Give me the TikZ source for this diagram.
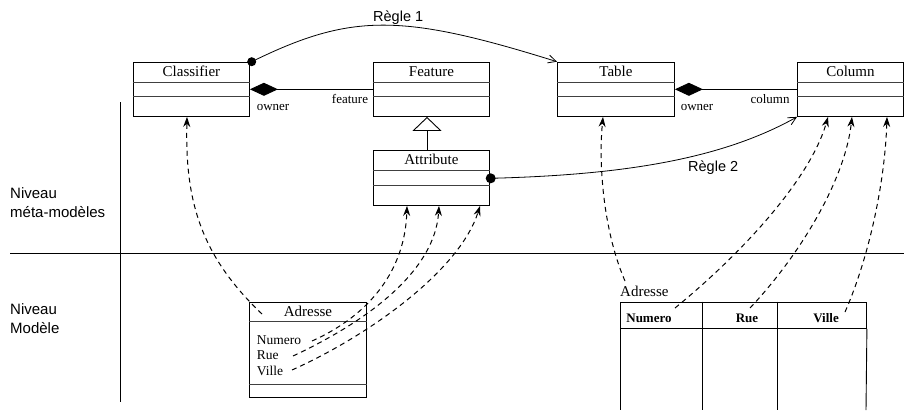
\documentclass[tikz,border=0pt]{standalone}
\usepackage{fontspec}
\setmainfont{Liberation Serif}
\setsansfont{Liberation Sans}
\usetikzlibrary{arrows.meta}
\tikzset{
  umlbox/.style={draw, line width=0.9pt, inner sep=0pt, anchor=north west},
  comp/.style={line width=0.8pt, draw=black!75},
  clsname/.style={font=\fontsize{15}{18}\selectfont, anchor=base, inner sep=0pt},
  rolelbl/.style={font=\fontsize{13}{16}\selectfont, anchor=base, inner sep=0pt},
  attrlbl/.style={font=\fontsize{13.5}{16}\selectfont, anchor=base west, inner sep=0pt},
  hdrlbl/.style={font=\bfseries\fontsize{13}{16}\selectfont, anchor=base, inner sep=0pt},
  sanslbl/.style={font=\sffamily\fontsize{15}{18}\selectfont, anchor=base west, inner sep=0pt},
  rulelbl/.style={font=\sffamily\fontsize{14.5}{18}\selectfont, anchor=base west, inner sep=0pt},
  composition/.style={line width=0.9pt, {Diamond[length=28pt,width=13pt]}-},
  rulearrow/.style={line width=0.8pt, -{Straight Barb[length=8pt,width=8pt]}},
  dasharrow/.style={line width=1pt, dash pattern=on 5pt off 4pt, -{Stealth[length=10pt,width=7pt]}},
}
\begin{document}
\begin{tikzpicture}[x=1pt,y=-1pt]
\useasboundingbox (0,0) rectangle (904,410);

% level separators
\draw[line width=0.9pt] (120,102) -- (120,402);
\draw[line width=0.9pt] (10,253) -- (904,253);
\node[sanslbl] (niv1) at (10,198) {Niveau};
\node[sanslbl] (meta) at (10,217) {méta-modèles};
\node[sanslbl] (niv2) at (10,314) {Niveau};
\node[sanslbl] (mod) at (10,333) {Modèle};

% meta-model classes
\node[umlbox, minimum width=116pt, minimum height=54.3pt] (classifier) at (133,61.7) {};
\node[umlbox, minimum width=116pt, minimum height=54.3pt] (feature) at (373,61.7) {};
\node[umlbox, minimum width=116pt, minimum height=55pt] (attribute) at (373,150) {};
\node[umlbox, minimum width=117pt, minimum height=54.3pt] (table) at (557,61.7) {};
\node[umlbox, minimum width=106pt, minimum height=54.3pt] (column) at (797,61.7) {};

\foreach \n in {classifier,feature,table,column}{
  \draw[comp] (\n.west |- 0,82) -- (\n.east |- 0,82);
  \draw[comp] (\n.west |- 0,96.7) -- (\n.east |- 0,96.7);
}
\draw[comp] (attribute.west |- 0,170.7) -- (attribute.east |- 0,170.7);
\draw[comp] (attribute.west |- 0,185) -- (attribute.east |- 0,185);

\node[clsname] (tclassifier) at (classifier.center |- 0,76.5) {Classifier};
\node[clsname] (tfeature) at (feature.center |- 0,76.5) {Feature};
\node[clsname] (tattribute) at (attribute.center |- 0,164.5) {Attribute};
\node[clsname] (ttable) at (table.center |- 0,76.5) {Table};
\node[clsname] (tcolumn) at (column.center |- 0,76.5) {Column};

% compositions
\draw[composition] (classifier.east |- 0,89.3) -- (feature.west |- 0,89.3);
\draw[composition] (table.east |- 0,89.3) -- (column.west |- 0,89.3);
\node[rolelbl] (own1) at (273,110) {owner};
\node[rolelbl] (feat) at (350,103.3) {feature};
\node[rolelbl] (own2) at (697,110) {owner};
\node[rolelbl] (col) at (770,103.3) {column};

% generalization
\draw[line width=0.9pt, -{Triangle[open,fill=white,length=14pt,width=29pt]}]
  (attribute.north -| 427,0) -- (feature.south -| 427,0);

% rules
\coordinate (r1s) at (251.7,61.7);
\coordinate (r2s) at (490.7,178.3);
\fill (r1s) circle (4.5pt);
\fill (r2s) circle (5pt);
\draw[rulearrow] (r1s) .. controls (351,13) and (401,13) .. (table.north west);
\draw[rulearrow] (r2s) .. controls (620,175) and (720,160) .. (column.south west);
\node[rulelbl] (regle1) at (373,21) {Règle 1};
\node[rulelbl] (regle2) at (688,171) {Règle 2};

% model: UML class Adresse
\node[umlbox, minimum width=117pt, minimum height=95pt] (adresse) at (249,301.7) {};
\draw[comp] (adresse.west |- 0,321.7) -- (adresse.east |- 0,321.7);
\draw[comp] (adresse.west |- 0,384) -- (adresse.east |- 0,384);
\node[clsname] (tadresse) at (adresse.center |- 0,316) {Adresse};
\node[attrlbl] (anum) at (256.7,344) {Numero};
\node[attrlbl] (arue) at (256.7,359.3) {Rue};
\node[attrlbl] (aville) at (256.7,375) {Ville};

% model: relational table Adresse
\node[font=\fontsize{15}{18}\selectfont, anchor=base west, inner sep=0pt] (tabname) at (620,296.7) {Adresse};
\node[umlbox, minimum width=246pt, minimum height=26.3pt] (thead) at (620,301.7) {};
\draw[line width=0.9pt] (thead.south west) -- (620,410);
\draw[line width=0.9pt] (thead.south east) -- (866,410);
\draw[line width=0.9pt] (thead.north -| 702,0) -- (702,410);
\draw[line width=0.9pt] (thead.north -| 777,0) -- (777,410);
\node[hdrlbl] (hnum) at (649,322.7) {Numero};
\node[hdrlbl] (hrue) at (747,322.7) {Rue};
\node[hdrlbl] (hville) at (826,322.7) {Ville};

% instance-of links (left)
\coordinate (s0) at (262,314);
\coordinate (s1) at (312,341);
\coordinate (s2) at (293,356);
\coordinate (s3) at (292,370);
\draw[dasharrow] (s0) .. controls (200,255) and (185,200) .. (classifier.south -| 187,0);
\draw[dasharrow] (s1) .. controls (370,315) and (405,270) .. (attribute.south -| 407,0);
\draw[dasharrow] (s2) .. controls (370,320) and (435,270) .. (attribute.south -| 439,0);
\draw[dasharrow] (s3) .. controls (370,335) and (460,270) .. (attribute.south -| 480,0);

% instance-of links (right)
\coordinate (t0) at (625,281);
\coordinate (t1) at (675,308);
\coordinate (t2) at (750,308);
\coordinate (t3) at (845,312);
\draw[dasharrow] (t0) .. controls (605,235) and (598,170) .. (table.south -| 603,0);
\draw[dasharrow] (t1) .. controls (740,255) and (810,180) .. (column.south -| 828,0);
\draw[dasharrow] (t2) .. controls (800,255) and (845,180) .. (column.south -| 852,0);
\draw[dasharrow] (t3) .. controls (870,255) and (885,180) .. (column.south -| 887,0);
\end{tikzpicture}
\end{document}
